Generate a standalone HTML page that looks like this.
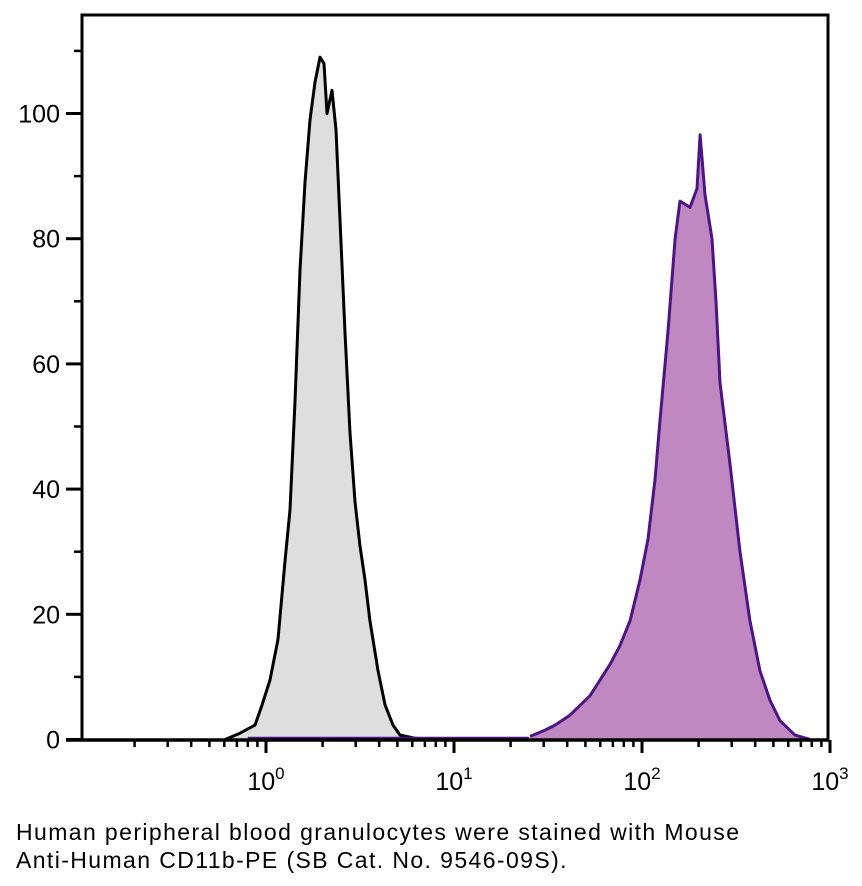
<!DOCTYPE html>
<html><head><meta charset="utf-8"><style>
body{margin:0;background:#fff;width:862px;height:886px;overflow:hidden;font-family:"Liberation Sans",sans-serif}
.cap{position:absolute;left:16px;font-size:23px;letter-spacing:1.4px;color:#000;line-height:28px}
</style></head><body>
<svg id="chart" width="862" height="886" style="position:absolute;left:0;top:0" font-family="Liberation Sans, sans-serif"></svg>
<div class="cap" style="top:818px">Human peripheral blood granulocytes were stained with Mouse<br>Anti-Human CD11b-PE (SB Cat. No. 9546-09S).</div>
<script>
const grayX=[0.605,0.727,0.874,0.952,1.05,1.158,1.262,1.342,1.427,1.516,1.612,1.714,1.822,1.937,2.035,2.11,2.244,2.357,2.476,2.632,2.797,2.973,3.16,3.36,3.57,3.94,4.30,4.74,5.16,6.20,8.43];
const grayY=[0,1,2.3,5.5,9.5,16,28.5,36.7,54,75,89,99,105,109,108,100,103.7,97.4,83,65,49,38,31,25.5,19,11,5.5,2.3,0.7,0.2,0];
const purpleX=[25.4,30.5,34.5,41.4,52.9,67.6,76.4,86.4,97.6,107.6,117.2,124.7,137.4,149.9,159.3,180.0,196.2,203.6,216.4,235.7,247.5,260,294,332,375,424,479,542,651,783];
const purpleY=[0.5,1.5,2.3,3.9,7,12,15,19,25.5,32,41.5,51,65,80,86,85,88,96.6,87,80,70,57,44,30,19,11,6.3,3,0.7,0];
const yTicks=[0,20,40,60,80,100];
const xDecades=[0,1,2,3];
const NS="http://www.w3.org/2000/svg";
const svg=document.getElementById('chart');
const L=82,R=828,T=15,B=740;
function sx(v){return 266+188*Math.log10(v);}
function sy(c){return 739.5-6.26*c;}
function mk(tag,at,parent){const e=document.createElementNS(NS,tag);for(const k in at)e.setAttribute(k,at[k]);(parent||svg).appendChild(e);return e;}
function drawSeries(xs,ys,fill,stroke,name){
  let d=`M${sx(xs[0])},${sy(0)}`;
  xs.forEach((x,i)=>{d+=` L${sx(x).toFixed(1)},${sy(ys[i]).toFixed(1)}`;});
  const area=mk('path',{d:d+` L${sx(xs[xs.length-1])},${sy(0)} Z`,fill:fill,stroke:'none'});
  
  
  let ld='';xs.forEach((x,i)=>{ld+=(i?' L':'M')+sx(x).toFixed(1)+','+sy(ys[i]).toFixed(1);});
  const line=mk('path',{d:ld,fill:'none',stroke:stroke,'stroke-width':3,'stroke-linejoin':'round'});
  
  
}
drawSeries(grayX,grayY,'#dedede','#000','isotype-histogram');
drawSeries(purpleX,purpleY,'#c088c0','#4b1487','cd11b-histogram');
const base=mk('line',{x1:sx(0.8),x2:sx(25),y1:B-2,y2:B-2,stroke:'#4b1487','stroke-width':2.5});


const frame=mk('path',{d:`M${L},${B} L${L},${T} L${R},${T} L${R},${B}`,fill:'none',stroke:'#000','stroke-width':3});


const xa=mk('line',{x1:66,y1:B,x2:R+1,y2:B,stroke:'#000','stroke-width':3.5});


for(let v=10;v<=110;v+=20){mk('line',{x1:74,x2:L,y1:sy(v),y2:sy(v),stroke:'#000','stroke-width':2.5});}
yTicks.forEach(v=>{
  mk('line',{x1:66,x2:L,y1:sy(v),y2:sy(v),stroke:'#000','stroke-width':3});
  const t=mk('text',{x:60,y:sy(v)+9,'text-anchor':'end','font-size':25});
  t.textContent=v;
  
  
});
for(let d=-1;d<3;d++){for(let m=2;m<=9;m++){const x=sx(m*Math.pow(10,d));if(x>L&&x<R)mk('line',{x1:x,x2:x,y1:B,y2:B+7,stroke:'#000','stroke-width':2.5});}}
xDecades.forEach(d=>{
  const x=sx(Math.pow(10,d));
  mk('line',{x1:x,x2:x,y1:B,y2:B+13,stroke:'#000','stroke-width':3});
  const t=mk('text',{x:x,y:790,'text-anchor':'middle','font-size':25});
  
  
  t.textContent='10';
  const s=mk('tspan',{dy:-11,'font-size':17},t);s.textContent=d;
});
</script>
</body></html>
